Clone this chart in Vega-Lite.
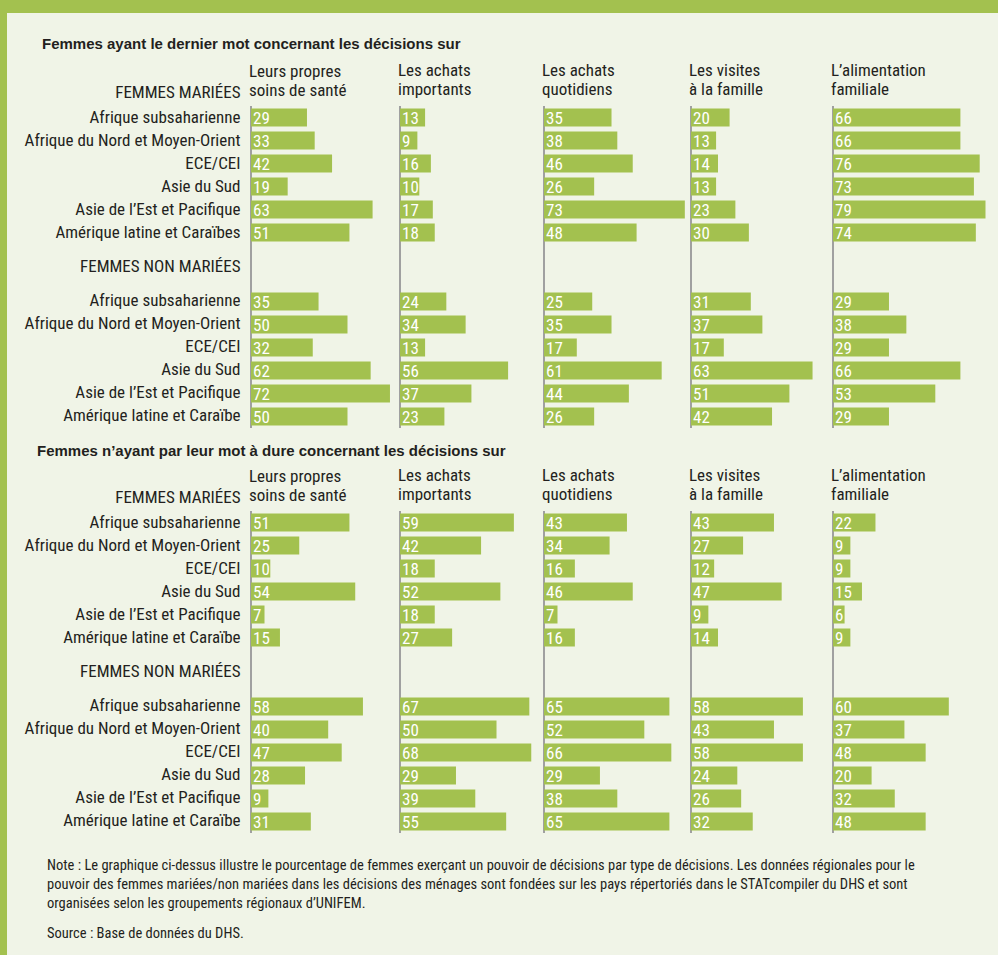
{
  "$schema": "https://vega.github.io/schema/vega-lite/v6.json",
  "padding": 0,
  "spacing": 0,
  "background": "#f0f4e7",
  "config": {
    "font": "Roboto Condensed, DejaVu Sans Condensed, sans-serif",
    "view": {"stroke": null},
    "title": {"color": "#231f20", "font": "Roboto Condensed, DejaVu Sans Condensed, sans-serif", "anchor": "start", "frame": "group", "fontSize": 17, "fontWeight": "normal", "lineHeight": 19, "offset": 6, "dx": -2},
    "axis": {"labelColor": "#231f20", "titleColor": "#231f20", "labelFont": "Roboto Condensed, DejaVu Sans Condensed, sans-serif", "titleFont": "Roboto Condensed, DejaVu Sans Condensed, sans-serif"},
    "text": {"font": "Roboto Condensed, DejaVu Sans Condensed, sans-serif"}
  },
  "datasets": {
    "decisions": [
      {"section": "A", "ligne": "M|Afrique subsaharienne", "decision": "sante", "value": 29},
      {"section": "A", "ligne": "M|Afrique subsaharienne", "decision": "achats_importants", "value": 13},
      {"section": "A", "ligne": "M|Afrique subsaharienne", "decision": "achats_quotidiens", "value": 35},
      {"section": "A", "ligne": "M|Afrique subsaharienne", "decision": "visites", "value": 20},
      {"section": "A", "ligne": "M|Afrique subsaharienne", "decision": "alimentation", "value": 66},
      {"section": "A", "ligne": "M|Afrique du Nord et Moyen-Orient", "decision": "sante", "value": 33},
      {"section": "A", "ligne": "M|Afrique du Nord et Moyen-Orient", "decision": "achats_importants", "value": 9},
      {"section": "A", "ligne": "M|Afrique du Nord et Moyen-Orient", "decision": "achats_quotidiens", "value": 38},
      {"section": "A", "ligne": "M|Afrique du Nord et Moyen-Orient", "decision": "visites", "value": 13},
      {"section": "A", "ligne": "M|Afrique du Nord et Moyen-Orient", "decision": "alimentation", "value": 66},
      {"section": "A", "ligne": "M|ECE/CEI", "decision": "sante", "value": 42},
      {"section": "A", "ligne": "M|ECE/CEI", "decision": "achats_importants", "value": 16},
      {"section": "A", "ligne": "M|ECE/CEI", "decision": "achats_quotidiens", "value": 46},
      {"section": "A", "ligne": "M|ECE/CEI", "decision": "visites", "value": 14},
      {"section": "A", "ligne": "M|ECE/CEI", "decision": "alimentation", "value": 76},
      {"section": "A", "ligne": "M|Asie du Sud", "decision": "sante", "value": 19},
      {"section": "A", "ligne": "M|Asie du Sud", "decision": "achats_importants", "value": 10},
      {"section": "A", "ligne": "M|Asie du Sud", "decision": "achats_quotidiens", "value": 26},
      {"section": "A", "ligne": "M|Asie du Sud", "decision": "visites", "value": 13},
      {"section": "A", "ligne": "M|Asie du Sud", "decision": "alimentation", "value": 73},
      {"section": "A", "ligne": "M|Asie de l’Est et Pacifique", "decision": "sante", "value": 63},
      {"section": "A", "ligne": "M|Asie de l’Est et Pacifique", "decision": "achats_importants", "value": 17},
      {"section": "A", "ligne": "M|Asie de l’Est et Pacifique", "decision": "achats_quotidiens", "value": 73},
      {"section": "A", "ligne": "M|Asie de l’Est et Pacifique", "decision": "visites", "value": 23},
      {"section": "A", "ligne": "M|Asie de l’Est et Pacifique", "decision": "alimentation", "value": 79},
      {"section": "A", "ligne": "M|Amérique latine et Caraïbes", "decision": "sante", "value": 51},
      {"section": "A", "ligne": "M|Amérique latine et Caraïbes", "decision": "achats_importants", "value": 18},
      {"section": "A", "ligne": "M|Amérique latine et Caraïbes", "decision": "achats_quotidiens", "value": 48},
      {"section": "A", "ligne": "M|Amérique latine et Caraïbes", "decision": "visites", "value": 30},
      {"section": "A", "ligne": "M|Amérique latine et Caraïbes", "decision": "alimentation", "value": 74},
      {"section": "A", "ligne": "N|Afrique subsaharienne", "decision": "sante", "value": 35},
      {"section": "A", "ligne": "N|Afrique subsaharienne", "decision": "achats_importants", "value": 24},
      {"section": "A", "ligne": "N|Afrique subsaharienne", "decision": "achats_quotidiens", "value": 25},
      {"section": "A", "ligne": "N|Afrique subsaharienne", "decision": "visites", "value": 31},
      {"section": "A", "ligne": "N|Afrique subsaharienne", "decision": "alimentation", "value": 29},
      {"section": "A", "ligne": "N|Afrique du Nord et Moyen-Orient", "decision": "sante", "value": 50},
      {"section": "A", "ligne": "N|Afrique du Nord et Moyen-Orient", "decision": "achats_importants", "value": 34},
      {"section": "A", "ligne": "N|Afrique du Nord et Moyen-Orient", "decision": "achats_quotidiens", "value": 35},
      {"section": "A", "ligne": "N|Afrique du Nord et Moyen-Orient", "decision": "visites", "value": 37},
      {"section": "A", "ligne": "N|Afrique du Nord et Moyen-Orient", "decision": "alimentation", "value": 38},
      {"section": "A", "ligne": "N|ECE/CEI", "decision": "sante", "value": 32},
      {"section": "A", "ligne": "N|ECE/CEI", "decision": "achats_importants", "value": 13},
      {"section": "A", "ligne": "N|ECE/CEI", "decision": "achats_quotidiens", "value": 17},
      {"section": "A", "ligne": "N|ECE/CEI", "decision": "visites", "value": 17},
      {"section": "A", "ligne": "N|ECE/CEI", "decision": "alimentation", "value": 29},
      {"section": "A", "ligne": "N|Asie du Sud", "decision": "sante", "value": 62},
      {"section": "A", "ligne": "N|Asie du Sud", "decision": "achats_importants", "value": 56},
      {"section": "A", "ligne": "N|Asie du Sud", "decision": "achats_quotidiens", "value": 61},
      {"section": "A", "ligne": "N|Asie du Sud", "decision": "visites", "value": 63},
      {"section": "A", "ligne": "N|Asie du Sud", "decision": "alimentation", "value": 66},
      {"section": "A", "ligne": "N|Asie de l’Est et Pacifique", "decision": "sante", "value": 72},
      {"section": "A", "ligne": "N|Asie de l’Est et Pacifique", "decision": "achats_importants", "value": 37},
      {"section": "A", "ligne": "N|Asie de l’Est et Pacifique", "decision": "achats_quotidiens", "value": 44},
      {"section": "A", "ligne": "N|Asie de l’Est et Pacifique", "decision": "visites", "value": 51},
      {"section": "A", "ligne": "N|Asie de l’Est et Pacifique", "decision": "alimentation", "value": 53},
      {"section": "A", "ligne": "N|Amérique latine et Caraïbe", "decision": "sante", "value": 50},
      {"section": "A", "ligne": "N|Amérique latine et Caraïbe", "decision": "achats_importants", "value": 23},
      {"section": "A", "ligne": "N|Amérique latine et Caraïbe", "decision": "achats_quotidiens", "value": 26},
      {"section": "A", "ligne": "N|Amérique latine et Caraïbe", "decision": "visites", "value": 42},
      {"section": "A", "ligne": "N|Amérique latine et Caraïbe", "decision": "alimentation", "value": 29},
      {"section": "B", "ligne": "M|Afrique subsaharienne", "decision": "sante", "value": 51},
      {"section": "B", "ligne": "M|Afrique subsaharienne", "decision": "achats_importants", "value": 59},
      {"section": "B", "ligne": "M|Afrique subsaharienne", "decision": "achats_quotidiens", "value": 43},
      {"section": "B", "ligne": "M|Afrique subsaharienne", "decision": "visites", "value": 43},
      {"section": "B", "ligne": "M|Afrique subsaharienne", "decision": "alimentation", "value": 22},
      {"section": "B", "ligne": "M|Afrique du Nord et Moyen-Orient", "decision": "sante", "value": 25},
      {"section": "B", "ligne": "M|Afrique du Nord et Moyen-Orient", "decision": "achats_importants", "value": 42},
      {"section": "B", "ligne": "M|Afrique du Nord et Moyen-Orient", "decision": "achats_quotidiens", "value": 34},
      {"section": "B", "ligne": "M|Afrique du Nord et Moyen-Orient", "decision": "visites", "value": 27},
      {"section": "B", "ligne": "M|Afrique du Nord et Moyen-Orient", "decision": "alimentation", "value": 9},
      {"section": "B", "ligne": "M|ECE/CEI", "decision": "sante", "value": 10},
      {"section": "B", "ligne": "M|ECE/CEI", "decision": "achats_importants", "value": 18},
      {"section": "B", "ligne": "M|ECE/CEI", "decision": "achats_quotidiens", "value": 16},
      {"section": "B", "ligne": "M|ECE/CEI", "decision": "visites", "value": 12},
      {"section": "B", "ligne": "M|ECE/CEI", "decision": "alimentation", "value": 9},
      {"section": "B", "ligne": "M|Asie du Sud", "decision": "sante", "value": 54},
      {"section": "B", "ligne": "M|Asie du Sud", "decision": "achats_importants", "value": 52},
      {"section": "B", "ligne": "M|Asie du Sud", "decision": "achats_quotidiens", "value": 46},
      {"section": "B", "ligne": "M|Asie du Sud", "decision": "visites", "value": 47},
      {"section": "B", "ligne": "M|Asie du Sud", "decision": "alimentation", "value": 15},
      {"section": "B", "ligne": "M|Asie de l’Est et Pacifique", "decision": "sante", "value": 7},
      {"section": "B", "ligne": "M|Asie de l’Est et Pacifique", "decision": "achats_importants", "value": 18},
      {"section": "B", "ligne": "M|Asie de l’Est et Pacifique", "decision": "achats_quotidiens", "value": 7},
      {"section": "B", "ligne": "M|Asie de l’Est et Pacifique", "decision": "visites", "value": 9},
      {"section": "B", "ligne": "M|Asie de l’Est et Pacifique", "decision": "alimentation", "value": 6},
      {"section": "B", "ligne": "M|Amérique latine et Caraïbe", "decision": "sante", "value": 15},
      {"section": "B", "ligne": "M|Amérique latine et Caraïbe", "decision": "achats_importants", "value": 27},
      {"section": "B", "ligne": "M|Amérique latine et Caraïbe", "decision": "achats_quotidiens", "value": 16},
      {"section": "B", "ligne": "M|Amérique latine et Caraïbe", "decision": "visites", "value": 14},
      {"section": "B", "ligne": "M|Amérique latine et Caraïbe", "decision": "alimentation", "value": 9},
      {"section": "B", "ligne": "N|Afrique subsaharienne", "decision": "sante", "value": 58},
      {"section": "B", "ligne": "N|Afrique subsaharienne", "decision": "achats_importants", "value": 67},
      {"section": "B", "ligne": "N|Afrique subsaharienne", "decision": "achats_quotidiens", "value": 65},
      {"section": "B", "ligne": "N|Afrique subsaharienne", "decision": "visites", "value": 58},
      {"section": "B", "ligne": "N|Afrique subsaharienne", "decision": "alimentation", "value": 60},
      {"section": "B", "ligne": "N|Afrique du Nord et Moyen-Orient", "decision": "sante", "value": 40},
      {"section": "B", "ligne": "N|Afrique du Nord et Moyen-Orient", "decision": "achats_importants", "value": 50},
      {"section": "B", "ligne": "N|Afrique du Nord et Moyen-Orient", "decision": "achats_quotidiens", "value": 52},
      {"section": "B", "ligne": "N|Afrique du Nord et Moyen-Orient", "decision": "visites", "value": 43},
      {"section": "B", "ligne": "N|Afrique du Nord et Moyen-Orient", "decision": "alimentation", "value": 37},
      {"section": "B", "ligne": "N|ECE/CEI", "decision": "sante", "value": 47},
      {"section": "B", "ligne": "N|ECE/CEI", "decision": "achats_importants", "value": 68},
      {"section": "B", "ligne": "N|ECE/CEI", "decision": "achats_quotidiens", "value": 66},
      {"section": "B", "ligne": "N|ECE/CEI", "decision": "visites", "value": 58},
      {"section": "B", "ligne": "N|ECE/CEI", "decision": "alimentation", "value": 48},
      {"section": "B", "ligne": "N|Asie du Sud", "decision": "sante", "value": 28},
      {"section": "B", "ligne": "N|Asie du Sud", "decision": "achats_importants", "value": 29},
      {"section": "B", "ligne": "N|Asie du Sud", "decision": "achats_quotidiens", "value": 29},
      {"section": "B", "ligne": "N|Asie du Sud", "decision": "visites", "value": 24},
      {"section": "B", "ligne": "N|Asie du Sud", "decision": "alimentation", "value": 20},
      {"section": "B", "ligne": "N|Asie de l’Est et Pacifique", "decision": "sante", "value": 9},
      {"section": "B", "ligne": "N|Asie de l’Est et Pacifique", "decision": "achats_importants", "value": 39},
      {"section": "B", "ligne": "N|Asie de l’Est et Pacifique", "decision": "achats_quotidiens", "value": 38},
      {"section": "B", "ligne": "N|Asie de l’Est et Pacifique", "decision": "visites", "value": 26},
      {"section": "B", "ligne": "N|Asie de l’Est et Pacifique", "decision": "alimentation", "value": 32},
      {"section": "B", "ligne": "N|Amérique latine et Caraïbe", "decision": "sante", "value": 31},
      {"section": "B", "ligne": "N|Amérique latine et Caraïbe", "decision": "achats_importants", "value": 55},
      {"section": "B", "ligne": "N|Amérique latine et Caraïbe", "decision": "achats_quotidiens", "value": 65},
      {"section": "B", "ligne": "N|Amérique latine et Caraïbe", "decision": "visites", "value": 32},
      {"section": "B", "ligne": "N|Amérique latine et Caraïbe", "decision": "alimentation", "value": 48}
    ]
  },
  "vconcat": [
    {
      "width": 998, "height": 13,
      "view": {"fill": "#a3c14f", "stroke": null},
      "data": {"values": []},
      "mark": "point",
      "encoding": {}
    },
    {
      "spacing": 0,
      "hconcat": [
        {
          "width": 7, "height": 942,
          "view": {"fill": "#a3c14f", "stroke": null},
          "data": {"values": []},
          "mark": "point",
          "encoding": {}
        },
        {
          "spacing": 23,
          "vconcat": [
            {
              "width": 1, "height": 1,
              "data": {"values": []},
              "mark": "point",
              "encoding": {}
            },
            {
              "spacing": 15,
              "vconcat": [
                {
                  "title": {"text": "Femmes ayant le dernier mot concernant les décisions sur", "dx": -209, "font": "Liberation Sans, Arial, sans-serif", "fontSize": 15, "fontWeight": "bold", "offset": 10},
                  "spacing": 0,
                  "bounds": "flush",
                  "hconcat": [
                    {
                      "width": 149, "height": 322,
                      "title": {"text": ["Leurs propres", "soins de santé"], "offset": -16.5},
                      "data": {"name": "decisions"},
                      "transform": [{"filter": "datum.section == 'A' && datum.decision == 'sante'"}],
                      "encoding": {
                        "y": {"field": "ligne", "type": "nominal", "scale": {"domain": ["M|Afrique subsaharienne", "M|Afrique du Nord et Moyen-Orient", "M|ECE/CEI", "M|Asie du Sud", "M|Asie de l’Est et Pacifique", "M|Amérique latine et Caraïbes", "-", "FEMMES NON MARIÉES", "N|Afrique subsaharienne", "N|Afrique du Nord et Moyen-Orient", "N|ECE/CEI", "N|Asie du Sud", "N|Asie de l’Est et Pacifique", "N|Amérique latine et Caraïbe"], "paddingInner": 0.217, "paddingOuter": 0.1087},
                          "axis": {"title": "FEMMES MARIÉES", "titleAngle": 0, "titleAlign": "right", "titleBaseline": "middle", "titleX": -11, "titleY": -14, "titleFontSize": 17, "titleFontWeight": "normal", "domain": false, "ticks": false, "labelPadding": 11, "labelFontSize": 17, "labelLimit": 0, "minExtent": 244, "maxExtent": 244, "labelExpr": "datum.value == '-' ? '' : (indexof(datum.value, '|') >= 0 ? split(datum.value, '|')[1] : datum.value)", "labelOffset": {"condition": {"test": "datum.value == 'FEMMES NON MARIÉES'", "value": -11.5}, "value": 0}}},
                        "x": {"field": "value", "type": "quantitative", "scale": {"domain": [0, 77.2], "nice": false}, "axis": null}
                      },
                      "layer": [
                        {"mark": {"type": "rule", "color": "#a0a0a0", "strokeWidth": 2}, "encoding": {"x": {"datum": 0}, "y": null}},
                        {"mark": {"type": "bar", "color": "#a3c14f"}},
                        {"mark": {"type": "text", "align": "left", "dx": 2, "dy": 1.5, "fontSize": 17, "color": "white"}, "encoding": {"x": {"datum": 0}, "text": {"field": "value"}}}
                      ]
                    },
                    {
                      "width": 144, "height": 322,
                      "title": {"text": ["Les achats", "importants"]},
                      "data": {"name": "decisions"},
                      "transform": [{"filter": "datum.section == 'A' && datum.decision == 'achats_importants'"}],
                      "encoding": {
                        "y": {"field": "ligne", "type": "nominal", "scale": {"domain": ["M|Afrique subsaharienne", "M|Afrique du Nord et Moyen-Orient", "M|ECE/CEI", "M|Asie du Sud", "M|Asie de l’Est et Pacifique", "M|Amérique latine et Caraïbes", "-", "FEMMES NON MARIÉES", "N|Afrique subsaharienne", "N|Afrique du Nord et Moyen-Orient", "N|ECE/CEI", "N|Asie du Sud", "N|Asie de l’Est et Pacifique", "N|Amérique latine et Caraïbe"], "paddingInner": 0.217, "paddingOuter": 0.1087}, "axis": null},
                        "x": {"field": "value", "type": "quantitative", "scale": {"domain": [0, 74.6], "nice": false}, "axis": null}
                      },
                      "layer": [
                        {"mark": {"type": "rule", "color": "#a0a0a0", "strokeWidth": 2}, "encoding": {"x": {"datum": 0}, "y": null}},
                        {"mark": {"type": "bar", "color": "#a3c14f"}},
                        {"mark": {"type": "text", "align": "left", "dx": 2, "dy": 1.5, "fontSize": 17, "color": "white"}, "encoding": {"x": {"datum": 0}, "text": {"field": "value"}}}
                      ]
                    },
                    {
                      "width": 147, "height": 322,
                      "title": {"text": ["Les achats", "quotidiens"]},
                      "data": {"name": "decisions"},
                      "transform": [{"filter": "datum.section == 'A' && datum.decision == 'achats_quotidiens'"}],
                      "encoding": {
                        "y": {"field": "ligne", "type": "nominal", "scale": {"domain": ["M|Afrique subsaharienne", "M|Afrique du Nord et Moyen-Orient", "M|ECE/CEI", "M|Asie du Sud", "M|Asie de l’Est et Pacifique", "M|Amérique latine et Caraïbes", "-", "FEMMES NON MARIÉES", "N|Afrique subsaharienne", "N|Afrique du Nord et Moyen-Orient", "N|ECE/CEI", "N|Asie du Sud", "N|Asie de l’Est et Pacifique", "N|Amérique latine et Caraïbe"], "paddingInner": 0.217, "paddingOuter": 0.1087}, "axis": null},
                        "x": {"field": "value", "type": "quantitative", "scale": {"domain": [0, 76.2], "nice": false}, "axis": null}
                      },
                      "layer": [
                        {"mark": {"type": "rule", "color": "#a0a0a0", "strokeWidth": 2}, "encoding": {"x": {"datum": 0}, "y": null}},
                        {"mark": {"type": "bar", "color": "#a3c14f"}},
                        {"mark": {"type": "text", "align": "left", "dx": 2, "dy": 1.5, "fontSize": 17, "color": "white"}, "encoding": {"x": {"datum": 0}, "text": {"field": "value"}}}
                      ]
                    },
                    {
                      "width": 142, "height": 322,
                      "title": {"text": ["Les visites", "à la famille"]},
                      "data": {"name": "decisions"},
                      "transform": [{"filter": "datum.section == 'A' && datum.decision == 'visites'"}],
                      "encoding": {
                        "y": {"field": "ligne", "type": "nominal", "scale": {"domain": ["M|Afrique subsaharienne", "M|Afrique du Nord et Moyen-Orient", "M|ECE/CEI", "M|Asie du Sud", "M|Asie de l’Est et Pacifique", "M|Amérique latine et Caraïbes", "-", "FEMMES NON MARIÉES", "N|Afrique subsaharienne", "N|Afrique du Nord et Moyen-Orient", "N|ECE/CEI", "N|Asie du Sud", "N|Asie de l’Est et Pacifique", "N|Amérique latine et Caraïbe"], "paddingInner": 0.217, "paddingOuter": 0.1087}, "axis": null},
                        "x": {"field": "value", "type": "quantitative", "scale": {"domain": [0, 73.6], "nice": false}, "axis": null}
                      },
                      "layer": [
                        {"mark": {"type": "rule", "color": "#a0a0a0", "strokeWidth": 2}, "encoding": {"x": {"datum": 0}, "y": null}},
                        {"mark": {"type": "bar", "color": "#a3c14f"}},
                        {"mark": {"type": "text", "align": "left", "dx": 2, "dy": 1.5, "fontSize": 17, "color": "white"}, "encoding": {"x": {"datum": 0}, "text": {"field": "value"}}}
                      ]
                    },
                    {
                      "width": 155, "height": 322,
                      "title": {"text": ["L’alimentation", "familiale"]},
                      "data": {"name": "decisions"},
                      "transform": [{"filter": "datum.section == 'A' && datum.decision == 'alimentation'"}],
                      "encoding": {
                        "y": {"field": "ligne", "type": "nominal", "scale": {"domain": ["M|Afrique subsaharienne", "M|Afrique du Nord et Moyen-Orient", "M|ECE/CEI", "M|Asie du Sud", "M|Asie de l’Est et Pacifique", "M|Amérique latine et Caraïbes", "-", "FEMMES NON MARIÉES", "N|Afrique subsaharienne", "N|Afrique du Nord et Moyen-Orient", "N|ECE/CEI", "N|Asie du Sud", "N|Asie de l’Est et Pacifique", "N|Amérique latine et Caraïbe"], "paddingInner": 0.217, "paddingOuter": 0.1087}, "axis": null},
                        "x": {"field": "value", "type": "quantitative", "scale": {"domain": [0, 80.3], "nice": false}, "axis": null}
                      },
                      "layer": [
                        {"mark": {"type": "rule", "color": "#a0a0a0", "strokeWidth": 2}, "encoding": {"x": {"datum": 0}, "y": null}},
                        {"mark": {"type": "bar", "color": "#a3c14f"}},
                        {"mark": {"type": "text", "align": "left", "dx": 2, "dy": 1.5, "fontSize": 17, "color": "white"}, "encoding": {"x": {"datum": 0}, "text": {"field": "value"}}}
                      ]
                    }
                  ]
                },
                {
                  "spacing": 24,
                  "vconcat": [
                    {
                      "title": {"text": "Femmes n’ayant par leur mot à dure concernant les décisions sur", "dx": -214, "font": "Liberation Sans, Arial, sans-serif", "fontSize": 15, "fontWeight": "bold", "offset": 8},
                      "spacing": 0,
                      "bounds": "flush",
                      "hconcat": [
                        {
                          "width": 149, "height": 322,
                          "title": {"text": ["Leurs propres", "soins de santé"], "offset": -16.5},
                          "data": {"name": "decisions"},
                          "transform": [{"filter": "datum.section == 'B' && datum.decision == 'sante'"}],
                          "encoding": {
                            "y": {"field": "ligne", "type": "nominal", "scale": {"domain": ["M|Afrique subsaharienne", "M|Afrique du Nord et Moyen-Orient", "M|ECE/CEI", "M|Asie du Sud", "M|Asie de l’Est et Pacifique", "M|Amérique latine et Caraïbe", "-", "FEMMES NON MARIÉES", "N|Afrique subsaharienne", "N|Afrique du Nord et Moyen-Orient", "N|ECE/CEI", "N|Asie du Sud", "N|Asie de l’Est et Pacifique", "N|Amérique latine et Caraïbe"], "paddingInner": 0.217, "paddingOuter": 0.1087},
                              "axis": {"title": "FEMMES MARIÉES", "titleAngle": 0, "titleAlign": "right", "titleBaseline": "middle", "titleX": -11, "titleY": -14, "titleFontSize": 17, "titleFontWeight": "normal", "domain": false, "ticks": false, "labelPadding": 11, "labelFontSize": 17, "labelLimit": 0, "minExtent": 244, "maxExtent": 244, "labelExpr": "datum.value == '-' ? '' : (indexof(datum.value, '|') >= 0 ? split(datum.value, '|')[1] : datum.value)", "labelOffset": {"condition": {"test": "datum.value == 'FEMMES NON MARIÉES'", "value": -11.5}, "value": 0}}},
                            "x": {"field": "value", "type": "quantitative", "scale": {"domain": [0, 77.2], "nice": false}, "axis": null}
                          },
                          "layer": [
                            {"mark": {"type": "rule", "color": "#a0a0a0", "strokeWidth": 2}, "encoding": {"x": {"datum": 0}, "y": null}},
                            {"mark": {"type": "bar", "color": "#a3c14f"}},
                            {"mark": {"type": "text", "align": "left", "dx": 2, "dy": 1.5, "fontSize": 17, "color": "white"}, "encoding": {"x": {"datum": 0}, "text": {"field": "value"}}}
                          ]
                        },
                        {
                          "width": 144, "height": 322,
                          "title": {"text": ["Les achats", "importants"]},
                          "data": {"name": "decisions"},
                          "transform": [{"filter": "datum.section == 'B' && datum.decision == 'achats_importants'"}],
                          "encoding": {
                            "y": {"field": "ligne", "type": "nominal", "scale": {"domain": ["M|Afrique subsaharienne", "M|Afrique du Nord et Moyen-Orient", "M|ECE/CEI", "M|Asie du Sud", "M|Asie de l’Est et Pacifique", "M|Amérique latine et Caraïbe", "-", "FEMMES NON MARIÉES", "N|Afrique subsaharienne", "N|Afrique du Nord et Moyen-Orient", "N|ECE/CEI", "N|Asie du Sud", "N|Asie de l’Est et Pacifique", "N|Amérique latine et Caraïbe"], "paddingInner": 0.217, "paddingOuter": 0.1087}, "axis": null},
                            "x": {"field": "value", "type": "quantitative", "scale": {"domain": [0, 74.6], "nice": false}, "axis": null}
                          },
                          "layer": [
                            {"mark": {"type": "rule", "color": "#a0a0a0", "strokeWidth": 2}, "encoding": {"x": {"datum": 0}, "y": null}},
                            {"mark": {"type": "bar", "color": "#a3c14f"}},
                            {"mark": {"type": "text", "align": "left", "dx": 2, "dy": 1.5, "fontSize": 17, "color": "white"}, "encoding": {"x": {"datum": 0}, "text": {"field": "value"}}}
                          ]
                        },
                        {
                          "width": 147, "height": 322,
                          "title": {"text": ["Les achats", "quotidiens"]},
                          "data": {"name": "decisions"},
                          "transform": [{"filter": "datum.section == 'B' && datum.decision == 'achats_quotidiens'"}],
                          "encoding": {
                            "y": {"field": "ligne", "type": "nominal", "scale": {"domain": ["M|Afrique subsaharienne", "M|Afrique du Nord et Moyen-Orient", "M|ECE/CEI", "M|Asie du Sud", "M|Asie de l’Est et Pacifique", "M|Amérique latine et Caraïbe", "-", "FEMMES NON MARIÉES", "N|Afrique subsaharienne", "N|Afrique du Nord et Moyen-Orient", "N|ECE/CEI", "N|Asie du Sud", "N|Asie de l’Est et Pacifique", "N|Amérique latine et Caraïbe"], "paddingInner": 0.217, "paddingOuter": 0.1087}, "axis": null},
                            "x": {"field": "value", "type": "quantitative", "scale": {"domain": [0, 76.2], "nice": false}, "axis": null}
                          },
                          "layer": [
                            {"mark": {"type": "rule", "color": "#a0a0a0", "strokeWidth": 2}, "encoding": {"x": {"datum": 0}, "y": null}},
                            {"mark": {"type": "bar", "color": "#a3c14f"}},
                            {"mark": {"type": "text", "align": "left", "dx": 2, "dy": 1.5, "fontSize": 17, "color": "white"}, "encoding": {"x": {"datum": 0}, "text": {"field": "value"}}}
                          ]
                        },
                        {
                          "width": 142, "height": 322,
                          "title": {"text": ["Les visites", "à la famille"]},
                          "data": {"name": "decisions"},
                          "transform": [{"filter": "datum.section == 'B' && datum.decision == 'visites'"}],
                          "encoding": {
                            "y": {"field": "ligne", "type": "nominal", "scale": {"domain": ["M|Afrique subsaharienne", "M|Afrique du Nord et Moyen-Orient", "M|ECE/CEI", "M|Asie du Sud", "M|Asie de l’Est et Pacifique", "M|Amérique latine et Caraïbe", "-", "FEMMES NON MARIÉES", "N|Afrique subsaharienne", "N|Afrique du Nord et Moyen-Orient", "N|ECE/CEI", "N|Asie du Sud", "N|Asie de l’Est et Pacifique", "N|Amérique latine et Caraïbe"], "paddingInner": 0.217, "paddingOuter": 0.1087}, "axis": null},
                            "x": {"field": "value", "type": "quantitative", "scale": {"domain": [0, 73.6], "nice": false}, "axis": null}
                          },
                          "layer": [
                            {"mark": {"type": "rule", "color": "#a0a0a0", "strokeWidth": 2}, "encoding": {"x": {"datum": 0}, "y": null}},
                            {"mark": {"type": "bar", "color": "#a3c14f"}},
                            {"mark": {"type": "text", "align": "left", "dx": 2, "dy": 1.5, "fontSize": 17, "color": "white"}, "encoding": {"x": {"datum": 0}, "text": {"field": "value"}}}
                          ]
                        },
                        {
                          "width": 155, "height": 322,
                          "title": {"text": ["L’alimentation", "familiale"]},
                          "data": {"name": "decisions"},
                          "transform": [{"filter": "datum.section == 'B' && datum.decision == 'alimentation'"}],
                          "encoding": {
                            "y": {"field": "ligne", "type": "nominal", "scale": {"domain": ["M|Afrique subsaharienne", "M|Afrique du Nord et Moyen-Orient", "M|ECE/CEI", "M|Asie du Sud", "M|Asie de l’Est et Pacifique", "M|Amérique latine et Caraïbe", "-", "FEMMES NON MARIÉES", "N|Afrique subsaharienne", "N|Afrique du Nord et Moyen-Orient", "N|ECE/CEI", "N|Asie du Sud", "N|Asie de l’Est et Pacifique", "N|Amérique latine et Caraïbe"], "paddingInner": 0.217, "paddingOuter": 0.1087}, "axis": null},
                            "x": {"field": "value", "type": "quantitative", "scale": {"domain": [0, 80.3], "nice": false}, "axis": null}
                          },
                          "layer": [
                            {"mark": {"type": "rule", "color": "#a0a0a0", "strokeWidth": 2}, "encoding": {"x": {"datum": 0}, "y": null}},
                            {"mark": {"type": "bar", "color": "#a3c14f"}},
                            {"mark": {"type": "text", "align": "left", "dx": 2, "dy": 1.5, "fontSize": 17, "color": "white"}, "encoding": {"x": {"datum": 0}, "text": {"field": "value"}}}
                          ]
                        }
                      ]
                    },
                    {
                      "width": 1, "height": 1,
                      "title": {"text": ["Note : Le graphique ci-dessus illustre le pourcentage de femmes exerçant un pouvoir de décisions par type de décisions. Les données régionales pour le", "pouvoir des femmes mariées/non mariées dans les décisions des ménages sont fondées sur les pays répertoriés dans le STATcompiler du DHS et sont", "organisées selon les groupements régionaux d’UNIFEM."], "subtitle": "Source : Base de données du DHS.", "dx": -204, "fontSize": 14.5, "lineHeight": 19, "subtitleFontSize": 14.5, "subtitleColor": "#231f20", "subtitleFont": "Roboto Condensed, DejaVu Sans Condensed, sans-serif", "subtitlePadding": 15, "offset": 0},
                      "data": {"values": []},
                      "mark": "point",
                      "encoding": {}
                    }
                  ]
                }
              ]
            }
          ]
        }
      ]
    }
  ]
}
